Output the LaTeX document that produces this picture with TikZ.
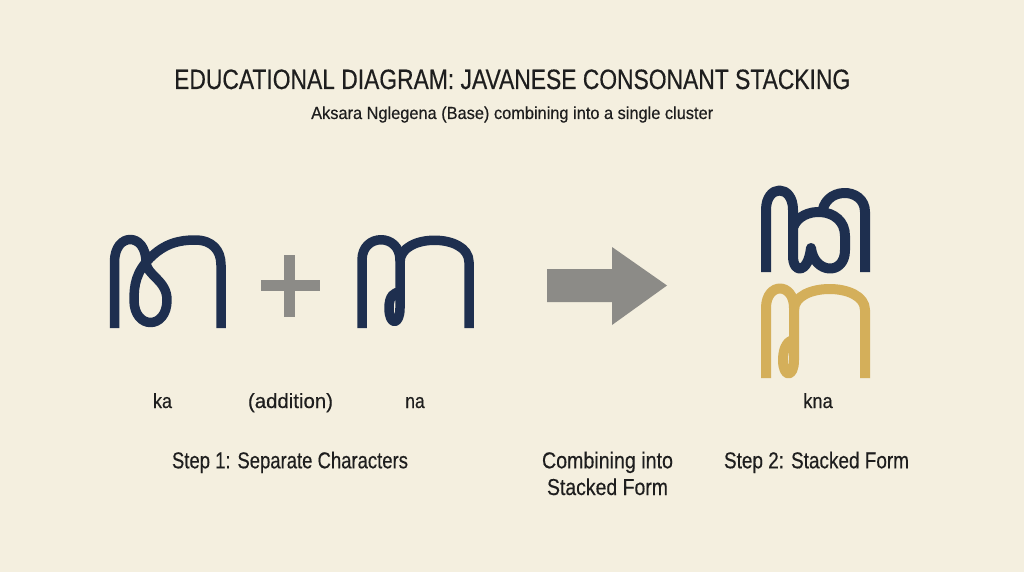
\documentclass[tikz,border=0pt]{standalone}
\usepackage{fontspec}
\usepackage{graphicx}
\setmainfont{Liberation Sans}[FakeBold=0.4]
\definecolor{bg}{HTML}{F4EFDF}
\definecolor{navy}{HTML}{1E2F4F}
\definecolor{gold}{HTML}{D4AF5A}
\definecolor{symgray}{HTML}{8C8B87}
\definecolor{ink}{HTML}{1E1E1E}
\newcommand\fitw[2]{\resizebox{#1pt}{\height}{#2}}
\tikzset{
  txt/.style={inner sep=0pt, text=ink, anchor=base},
  glyph/.style={line width=9.5pt, line join=round, line cap=butt},
  sglyph/.style={line width=10pt, line join=round, line cap=butt},
}
\begin{document}
\begin{tikzpicture}[x=1pt,y=-1pt]
\useasboundingbox (0,0) rectangle (1024,572);
\fill[bg] (0,0) rectangle (1024,572);

% titles
\node[txt, anchor=base west] (title) at (174,89) {\fontsize{28}{30}\selectfont\fitw{676}{EDUCATIONAL DIAGRAM: JAVANESE CONSONANT STACKING}};
\node[txt, anchor=base west] (subtitle) at (311,119) {\fontsize{17.5}{20}\selectfont\fitw{402}{Aksara Nglegena (Base) combining into a single cluster}};

% ka glyph
\draw[glyph, navy] (114.5,328) -- (114.5,262) .. controls (114.5,232) and (146,232) .. (146,262)
  .. controls (146,275) and (167,280) .. (167,300)
  .. controls (167,330) and (134,330) .. (134,300)
  .. controls (134,285) and (136,272) .. (150,258)
  .. controls (165,243) and (180,240) .. (195,240)
  .. controls (212,240) and (221,250) .. (221,265) -- (221,328);

% plus
\fill[symgray] (261,280.3) rectangle (319.5,290.7);
\fill[symgray] (284,255) rectangle (294.5,316.5);

% na glyph
\draw[glyph, navy] (362,328) -- (362,260) .. controls (362,233) and (400,233) .. (400,260) -- (400,308)
  .. controls (400,326) and (389,326) .. (389,308)
  .. controls (389,296) and (394,292) .. (400,292);
\draw[glyph, navy] (400,262) .. controls (400,233) and (469,233) .. (469,262) -- (469,328);

% arrow
\fill[symgray] (547,269) -- (612,269) -- (612,247) -- (667,285.5) -- (612,325) -- (612,302) -- (547,302) -- cycle;

% stacked: top ka
\draw[sglyph, navy] (766,272) -- (766,210) .. controls (766,184) and (793,184) .. (793,210) -- (793,256)
  .. controls (793,274) and (808,274) .. (811,248)
  .. controls (814,274) and (845,276) .. (845,250) -- (845,236)
  .. controls (845,206) and (800,205) .. (793,228);
\draw[sglyph, navy] (822,216) .. controls (822,186) and (865,186) .. (865,212) -- (865,272);

% stacked: bottom na (gold)
\draw[sglyph, gold] (766,378) -- (766,308) .. controls (766,282) and (794,282) .. (794,308) -- (794,360)
  .. controls (794,378) and (783,378) .. (783,360)
  .. controls (783,346) and (789,340) .. (794,340);
\draw[sglyph, gold] (794,310) .. controls (794,282) and (865,282) .. (865,310) -- (865,378);

% labels
\node[txt] (lka) at (162.5,408) {\fontsize{20.5}{22}\selectfont\fitw{19}{ka}};
\node[txt] (ladd) at (290.5,408) {\fontsize{20.5}{22}\selectfont\fitw{85}{(addition)}};
\node[txt] (lna) at (415,408) {\fontsize{20.5}{22}\selectfont\fitw{19.5}{na}};
\node[txt] (lkna) at (818,408) {\fontsize{20.5}{22}\selectfont\fitw{29.5}{kna}};

\node[txt] (step1) at (290,468.3) {\fontsize{23}{26}\selectfont\fitw{236}{Step 1: Separate Characters}};
\node[txt] (comb1) at (607.5,468.3) {\fontsize{23}{26}\selectfont\fitw{131}{Combining into}};
\node[txt] (comb2) at (607.5,495) {\fontsize{23}{26}\selectfont\fitw{121}{Stacked Form}};
\node[txt] (step2) at (816.5,468.3) {\fontsize{23}{26}\selectfont\fitw{185}{Step 2: Stacked Form}};
\end{tikzpicture}
\end{document}
